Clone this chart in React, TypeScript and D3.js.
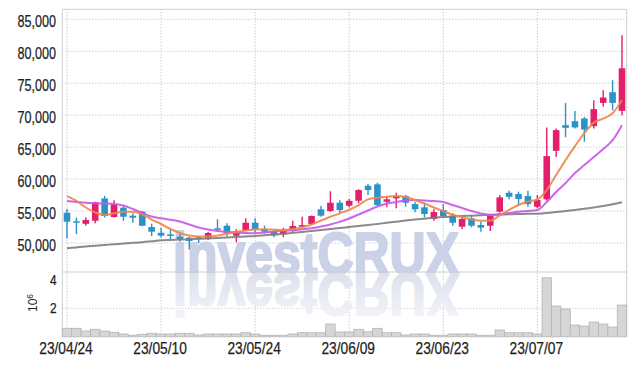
import React from 'react';
import * as d3 from 'd3';

const dates = [
  '23/04/24','23/04/25','23/04/26','23/04/27','23/04/28','23/05/02','23/05/03','23/05/04','23/05/08','23/05/09',
  '23/05/10','23/05/11','23/05/12','23/05/15','23/05/16','23/05/17','23/05/18','23/05/19','23/05/22','23/05/23',
  '23/05/24','23/05/25','23/05/26','23/05/30','23/05/31','23/06/01','23/06/02','23/06/05','23/06/07','23/06/08',
  '23/06/09','23/06/12','23/06/13','23/06/14','23/06/15','23/06/16','23/06/19','23/06/20','23/06/21','23/06/22',
  '23/06/23','23/06/26','23/06/27','23/06/28','23/06/29','23/06/30','23/07/03','23/07/04','23/07/05','23/07/06',
  '23/07/07','23/07/10','23/07/11','23/07/12','23/07/13','23/07/14','23/07/17','23/07/18','23/07/19','23/07/20',
];

const opens = [
  54730,53400,53000,53480,56980,54060,55520,54270,54900,52500,
  51600,51360,50980,50830,50890,50730,52300,52700,51140,52030,
  53170,52140,51770,51360,52030,52550,52970,55270,55000,56300,
  55830,56610,58950,59170,56450,56980,57340,56090,55580,53750,
  55160,54270,52550,53860,52810,52700,54900,57860,57660,57340,
  55670,56830,64420,68440,69060,69480,68280,71920,73590,70670,
];
const highs = [
  55300,54000,54000,56450,57340,56700,55780,54640,55000,53000,
  52400,52140,51400,50980,51100,51700,53700,53080,52140,53860,
  53860,52700,52030,52400,53480,54100,54300,55780,58080,56700,
  56900,58390,59220,59420,57230,57860,57500,56450,56300,55270,
  56090,54640,54220,54375,53330,54530,57500,58170,58020,58170,
  57500,68080,67920,71920,70670,69700,72340,73900,75470,82500,
];
const lows = [
  50700,51400,52700,53080,54000,54000,53480,53170,52600,51100,
  50900,50580,50200,49000,49950,50470,51900,50980,50100,51875,
  51600,51500,50900,50900,51770,52450,52900,54110,54900,54640,
  55600,56200,57500,55780,55580,55420,55670,54800,54000,53480,
  54000,52700,52190,52450,51770,51875,54730,56830,55940,55670,
  55420,56600,63440,66550,67920,65830,67920,71300,70780,70000,
];
const closes = [
  53330,53300,53600,56360,54220,56090,54110,53950,52700,51770,
  51140,51100,50625,50310,50680,51560,52140,51500,51875,53170,
  52190,51770,51200,52030,52660,52800,54220,54270,56300,55160,
  56600,58280,58280,55940,56830,57340,56300,55270,54530,54840,
  54220,53170,53750,52700,52400,54220,57140,57230,56880,56090,
  56720,63590,67660,68020,68080,67760,70940,72760,71920,77340,
];
// volume in millions of shares
const volumes = [
  0.59,0.59,0.40,0.52,0.40,0.31,0.19,0.10,0.17,0.24,
  0.19,0.19,0.24,0.24,0.12,0.19,0.19,0.19,0.19,0.28,
  0.19,0.10,0.10,0.10,0.19,0.28,0.28,0.28,0.89,0.33,
  0.33,0.52,0.35,0.59,0.28,0.28,0.12,0.19,0.19,0.10,
  0.10,0.19,0.19,0.19,0.10,0.10,0.47,0.28,0.28,0.28,
  0.19,4.15,2.16,1.95,0.82,0.75,1.03,0.89,0.68,2.23,
];
const ma5 = [
  57340,56610,55550,54770,54380,54640,54890,54880,54450,53670,
  52970,52190,51560,51170,51020,51020,51170,51480,51720,51950,
  52110,52140,52080,52030,52190,52420,52890,53520,54110,54640,
  55200,55940,56830,57080,57230,57340,57190,56720,56170,55550,
  55000,54450,54020,53700,53480,53520,54300,55200,55940,56480,
  56800,58280,60630,62970,65160,67190,68830,69450,70310,72340,
];
const ma20 = [
  56560,56410,56300,56200,56170,56090,55860,55310,54690,54140,
  53860,53640,53360,52890,52420,52110,51880,51720,51640,51560,
  51530,51640,51800,51910,52000,52140,52300,52580,52890,53330,
  53830,54450,55080,55700,56170,56410,56640,56720,56640,56560,
  56410,55940,55470,55000,54610,54380,54480,54690,54890,55000,
  55160,56410,57970,59380,60940,62190,63440,64690,66090,68440,
];
const ma60 = [
  49170,49310,49450,49580,49690,49800,49910,50020,50130,50270,
  50410,50470,50530,50590,50660,50720,50780,50860,50940,51020,
  51090,51200,51330,51450,51590,51730,51880,52030,52190,52340,
  52500,52660,52810,52980,53160,53330,53500,53660,53800,53940,
  54060,54140,54220,54280,54340,54410,54450,54500,54530,54560,
  54590,54690,54840,55000,55160,55340,55550,55780,56060,56380,
];
const priceTicks = [50000, 55000, 60000, 65000, 70000, 75000, 80000, 85000];
const volumeTicks = [2, 4];
const xTickLabels = ['23/04/24', '23/05/10', '23/05/24', '23/06/09', '23/06/23', '23/07/07'];

const W = 635, H = 366;
const LEFT = 62.3, RIGHT = 626.7, TOP = 9.3, PRICE_BOTTOM = 272, VOL_BOTTOM = 336.7;
const FONT = '"Liberation Sans", Arial, sans-serif';
const UP = '#e21f6b', DOWN = '#2b93c7';

export default function App() {
  const x = d3.scaleBand<string>().domain(dates).range([LEFT, RIGHT]).paddingInner(0.3).paddingOuter(0.15);
  const bw = x.bandwidth();
  const cx = (i: number) => (x(dates[i]) as number) + bw / 2;
  const y = d3.scaleLinear().domain([45460, 86565]).range([PRICE_BOTTOM, TOP]);
  const yv = d3.scaleLinear().domain([0, 4.556]).range([VOL_BOTTOM, PRICE_BOTTOM]);
  const mkLine = (arr: number[]) =>
    d3.line<number>().x((_, i) => cx(i)).y((d) => y(d)).curve(d3.curveMonotoneX)(arr) || '';
  const fmt = d3.format(',');
  const step = x.step();

  return (
    <svg width={W} height={H} style={{ position: 'absolute', left: 0, top: 0, background: '#fff' }}>
      <defs>
        <clipPath id="pc"><rect x={LEFT} y={TOP} width={RIGHT - LEFT} height={PRICE_BOTTOM - TOP} /></clipPath>
        <linearGradient id="refl" gradientUnits="userSpaceOnUse" x1="0" y1="274" x2="0" y2="232">
          <stop offset="0" stopColor="#dde1ec" />
          <stop offset="1" stopColor="#f2f3f8" />
        </linearGradient>
      </defs>

      {/* gridlines */}
      {priceTicks.map((t) => (
        <line key={'h' + t} x1={LEFT} x2={RIGHT} y1={y(t)} y2={y(t)} stroke="#b9bccb" strokeDasharray="1 2" />
      ))}
      <line x1={LEFT} x2={RIGHT} y1={yv(2)} y2={yv(2)} stroke="#b9bccb" strokeDasharray="1 2" />
      {xTickLabels.map((d) => (
        <line key={'v' + d} x1={(x(d) as number) + bw / 2} x2={(x(d) as number) + bw / 2} y1={TOP} y2={VOL_BOTTOM}
          stroke="#aab3d3" strokeDasharray="1 2" />
      ))}

      {/* watermark */}
      <g fontFamily={FONT} fontWeight="bold" fontSize={59}>
        <text x={173} y={274} textLength={286} lengthAdjust="spacingAndGlyphs" fill="#cbd1e7"
          stroke="#cbd1e7" strokeWidth={2.2} strokeLinejoin="round">investCRUX</text>
        <text x={173} y={274} textLength={286} lengthAdjust="spacingAndGlyphs" fill="url(#refl)"
          stroke="url(#refl)" strokeWidth={2.2} strokeLinejoin="round"
          transform="translate(0,548) scale(1,-1)">investCRUX</text>
      </g>

      {/* panel borders */}
      <line x1={LEFT} x2={RIGHT} y1={TOP} y2={TOP} stroke="#cfcfcf" />
      <line x1={LEFT} x2={RIGHT} y1={PRICE_BOTTOM} y2={PRICE_BOTTOM} stroke="#cfcfcf" />
      <line x1={LEFT} x2={LEFT} y1={TOP} y2={VOL_BOTTOM} stroke="#cfcfcf" />
      <line x1={RIGHT} x2={RIGHT} y1={TOP} y2={VOL_BOTTOM} stroke="#cfcfcf" />

      {/* volume bars */}
      {volumes.map((v, i) => (
        <rect key={'vb' + i} x={cx(i) - step / 2} width={step} y={yv(v)} height={VOL_BOTTOM - yv(v)}
          fill="#d6d6d6" stroke="#b3b3b3" strokeWidth={0.8} />
      ))}
      <line x1={LEFT} x2={RIGHT} y1={VOL_BOTTOM} y2={VOL_BOTTOM} stroke="#c8c8c8" />

      {/* candles */}
      <g clipPath="url(#pc)">
        {dates.map((d, i) => {
          const o = opens[i], c = closes[i];
          const col = c >= o ? UP : DOWN;
          const top = y(Math.max(o, c)), bot = y(Math.min(o, c));
          return (
            <g key={'c' + i}>
              <line x1={cx(i)} x2={cx(i)} y1={y(highs[i])} y2={y(lows[i])} stroke={col} strokeWidth={1.4} />
              <rect x={cx(i) - bw / 2} width={bw} y={top} height={Math.max(1.5, bot - top)} fill={col} />
            </g>
          );
        })}
        <path d={mkLine(ma60)} fill="none" stroke="#7d7d7d" strokeWidth={2} strokeOpacity={0.9} />
        <path d={mkLine(ma20)} fill="none" stroke="#c955e8" strokeWidth={2} strokeOpacity={0.9} />
        <path d={mkLine(ma5)} fill="none" stroke="#ef8548" strokeWidth={2} strokeOpacity={0.9} />
      </g>

      {/* price axis labels */}
      <g fontFamily={FONT} fontSize={17} fill="#1e1e1e" stroke="#1e1e1e" strokeWidth={0.25} textAnchor="end">
        {priceTicks.map((t) => (
          <text key={'pl' + t} x={56} y={y(t) + 8} textLength={38.5} lengthAdjust="spacingAndGlyphs">{fmt(t)}</text>
        ))}
      </g>
      {/* volume axis labels */}
      <g fontFamily={FONT} fontSize={14} fill="#1e1e1e" stroke="#1e1e1e" strokeWidth={0.25} textAnchor="end">
        {volumeTicks.map((t) => (
          <text key={'vl' + t} x={56.5} y={Math.max(yv(t), PRICE_BOTTOM + 6) + 5} textLength={6.6} lengthAdjust="spacingAndGlyphs">{t}</text>
        ))}
      </g>
      <text transform="translate(37,312) rotate(-90)" fontFamily={FONT} fontSize={12} fill="#1e1e1e">
        10<tspan dy={-4} fontSize={8.5}>6</tspan>
      </text>

      {/* date labels */}
      <g fontFamily={FONT} fontSize={17} fill="#1e1e1e" stroke="#1e1e1e" strokeWidth={0.25} textAnchor="middle">
        {xTickLabels.map((d) => (
          <text key={'xl' + d} x={(x(d) as number) + bw / 2 - 1} y={354} textLength={53.5} lengthAdjust="spacingAndGlyphs">{d}</text>
        ))}
      </g>
    </svg>
  );
}
